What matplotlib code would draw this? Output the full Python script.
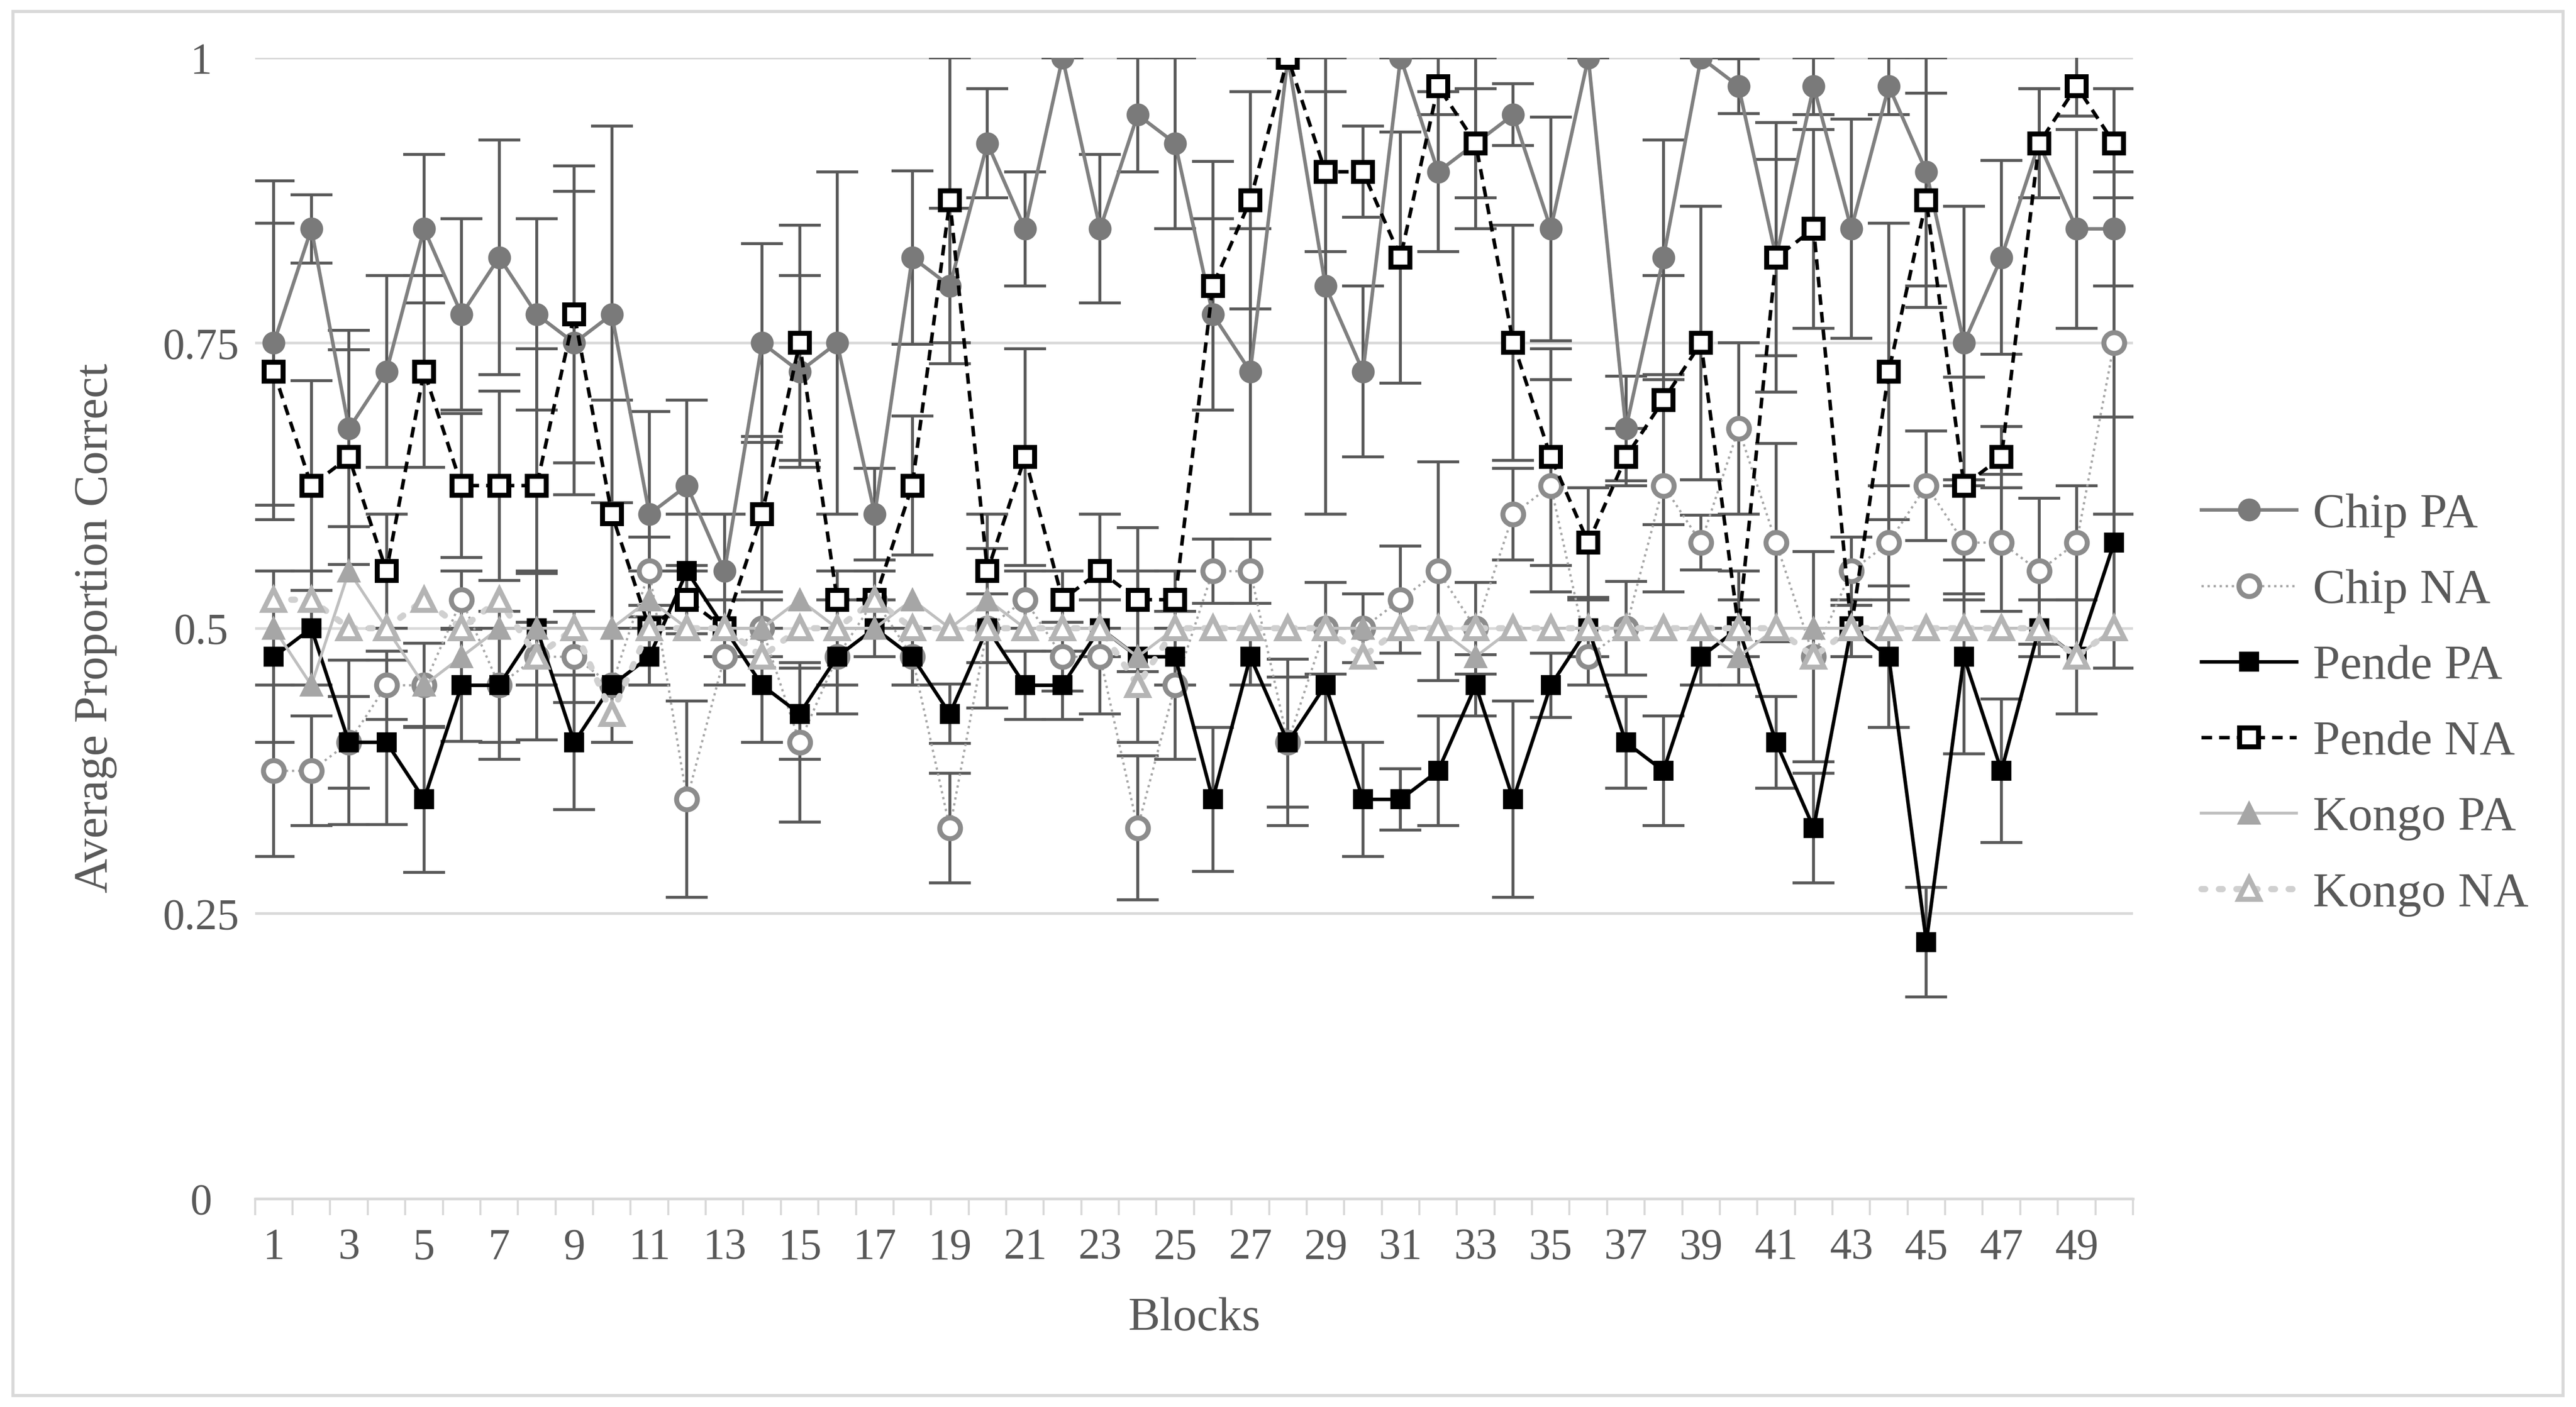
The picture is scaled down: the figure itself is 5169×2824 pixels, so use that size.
import matplotlib
matplotlib.use("Agg")
import matplotlib.pyplot as plt
from matplotlib.patches import Rectangle
from matplotlib.ticker import FixedLocator, FuncFormatter

# Blocks 1..50
blocks = list(range(1, 51))

chip_pa = [0.75, 0.85, 0.675, 0.725, 0.85, 0.775, 0.825, 0.775, 0.75, 0.775,
           0.6, 0.625, 0.55, 0.75, 0.725, 0.75, 0.6, 0.825, 0.8, 0.925,
           0.85, 1.0, 0.85, 0.95, 0.925, 0.775, 0.725, 1.0, 0.8, 0.725,
           1.0, 0.9, 0.925, 0.95, 0.85, 1.0, 0.675, 0.825, 1.0, 0.975,
           0.825, 0.975, 0.85, 0.975, 0.9, 0.75, 0.825, 0.925, 0.85, 0.85]
chip_pa_err = [0.142, 0.03, 0.086, 0.084, 0.065, 0.084, 0.103, 0.084, 0.133, 0.165,
               0.09, 0.075, 0.05, 0.087, 0.084, 0.15, 0.04, 0.076, 0.068, 0.048,
               0.05, 0.0, 0.065, 0.05, 0.075, 0.084, 0.125, 0.0, 0.2, 0.075,
               0.0, 0.07, 0.048, 0.027, 0.098, 0.0, 0.046, 0.103, 0.0, 0.024,
               0.118, 0.025, 0.096, 0.025, 0.1, 0.12, 0.085, 0.048, 0.087, 0.05]

chip_na = [0.375, 0.375, 0.4, 0.45, 0.45, 0.525, 0.45, 0.475, 0.475, 0.45,
           0.55, 0.35, 0.475, 0.5, 0.4, 0.475, 0.525, 0.475, 0.325, 0.5,
           0.525, 0.475, 0.475, 0.325, 0.45, 0.55, 0.55, 0.4, 0.5, 0.5,
           0.525, 0.55, 0.5, 0.6, 0.625, 0.475, 0.5, 0.625, 0.575, 0.675,
           0.575, 0.475, 0.55, 0.575, 0.625, 0.575, 0.575, 0.55, 0.575, 0.75]
chip_na_err = [0.075, 0.048, 0.04, 0.03, 0.037, 0.025, 0.05, 0.073, 0.04, 0.05,
               0.03, 0.086, 0.025, 0.025, 0.07, 0.05, 0.025, 0.025, 0.048, 0.03,
               0.025, 0.03, 0.05, 0.063, 0.065, 0.028, 0.028, 0.057, 0.04, 0.03,
               0.047, 0.096, 0.04, 0.04, 0.093, 0.025, 0.041, 0.093, 0.024, 0.075,
               0.087, 0.092, 0.03, 0.05, 0.048, 0.05, 0.06, 0.064, 0.05, 0.15]

pende_pa = [0.475, 0.5, 0.4, 0.4, 0.35, 0.45, 0.45, 0.5, 0.4, 0.45,
            0.475, 0.55, 0.5, 0.45, 0.425, 0.475, 0.5, 0.475, 0.425, 0.5,
            0.45, 0.45, 0.5, 0.475, 0.475, 0.35, 0.475, 0.4, 0.45, 0.35,
            0.35, 0.375, 0.45, 0.35, 0.45, 0.5, 0.4, 0.375, 0.475, 0.5,
            0.4, 0.325, 0.5, 0.475, 0.225, 0.475, 0.375, 0.5, 0.475, 0.575]
pende_pa_err = [0.075, 0.05, 0.072, 0.072, 0.064, 0.049, 0.065, 0.05, 0.059, 0.05,
                0.025, 0.05, 0.025, 0.05, 0.04, 0.025, 0.025, 0.025, 0.026, 0.07,
                0.03, 0.03, 0.025, 0.075, 0.025, 0.063, 0.025, 0.073, 0.05, 0.05,
                0.027, 0.048, 0.027, 0.086, 0.028, 0.025, 0.04, 0.048, 0.025, 0.05,
                0.04, 0.048, 0.025, 0.062, 0.048, 0.085, 0.063, 0.025, 0.05, 0.11]

pende_na = [0.725, 0.625, 0.65, 0.55, 0.725, 0.625, 0.625, 0.625, 0.775, 0.6,
            0.5, 0.525, 0.5, 0.6, 0.75, 0.525, 0.525, 0.625, 0.875, 0.55,
            0.65, 0.525, 0.55, 0.525, 0.525, 0.8, 0.875, 1.0, 0.9, 0.9,
            0.825, 0.975, 0.925, 0.75, 0.65, 0.575, 0.65, 0.7, 0.75, 0.5,
            0.825, 0.85, 0.5, 0.725, 0.875, 0.625, 0.65, 0.925, 0.975, 0.925]
pende_na_err = [0.13, 0.092, 0.094, 0.05, 0.084, 0.063, 0.083, 0.12, 0.13, 0.1,
                0.05, 0.03, 0.025, 0.068, 0.103, 0.025, 0.025, 0.061, 0.125, 0.05,
                0.095, 0.025, 0.05, 0.063, 0.025, 0.109, 0.095, 0.0, 0.07, 0.04,
                0.11, 0.025, 0.075, 0.103, 0.095, 0.048, 0.025, 0.109, 0.12, 0.025,
                0.086, 0.087, 0.025, 0.13, 0.094, 0.095, 0.027, 0.048, 0.026, 0.048]

kongo_pa = [0.5, 0.45, 0.55, 0.5, 0.45, 0.475, 0.5, 0.5, 0.5, 0.5,
            0.525, 0.5, 0.5, 0.5, 0.525, 0.5, 0.5, 0.525, 0.5, 0.525,
            0.5, 0.5, 0.5, 0.475, 0.5, 0.5, 0.5, 0.5, 0.5, 0.5,
            0.5, 0.5, 0.475, 0.5, 0.5, 0.5, 0.5, 0.5, 0.5, 0.475,
            0.5, 0.5, 0.5, 0.5, 0.5, 0.5, 0.5, 0.5, 0.475, 0.5]

kongo_na = [0.525, 0.525, 0.5, 0.5, 0.525, 0.5, 0.525, 0.475, 0.5, 0.425,
            0.5, 0.5, 0.5, 0.475, 0.5, 0.5, 0.525, 0.5, 0.5, 0.5,
            0.5, 0.5, 0.5, 0.45, 0.5, 0.5, 0.5, 0.5, 0.5, 0.475,
            0.5, 0.5, 0.5, 0.5, 0.5, 0.5, 0.5, 0.5, 0.5, 0.5,
            0.5, 0.475, 0.5, 0.5, 0.5, 0.5, 0.5, 0.5, 0.475, 0.5]

y_ticks = [0, 0.25, 0.5, 0.75, 1]
x_labels = list(range(1, 51, 2))

plt.rcParams['font.family'] = ['Liberation Serif', 'DejaVu Serif']

fig = plt.figure(figsize=(5169 / 300, 2824 / 300), dpi=300)
ax = fig.add_axes([0.099, 0.148, 0.729, 0.811])

err_color = '#595959'
err_kw = dict(ecolor=err_color, elinewidth=1.4, capsize=10, capthick=1.4)

# error bars first, so markers sit on top
for vals, errs in [(chip_pa, chip_pa_err), (chip_na, chip_na_err),
                   (pende_pa, pende_pa_err), (pende_na, pende_na_err)]:
    ax.errorbar(blocks, vals, yerr=errs, fmt='none', zorder=2, **err_kw)

ax.plot(blocks, chip_pa, color='#808080', lw=1.7, marker='o', ms=10,
        mfc='#7a7a7a', mec='#7a7a7a', label='Chip PA', zorder=3)
ax.plot(blocks, chip_na, color='#a6a6a6', lw=1.1, ls=':', marker='o', ms=10,
        mfc='white', mec='#8c8c8c', mew=2.4, label='Chip NA', zorder=4)
ax.plot(blocks, pende_pa, color='black', lw=1.7, marker='s', ms=8.5,
        mfc='black', mec='black', label='Pende PA', zorder=5)
ax.plot(blocks, pende_na, color='black', lw=1.7, ls=(0, (3, 2)), marker='s', ms=9,
        mfc='white', mec='black', mew=2.4, label='Pende NA', zorder=6)
ax.plot(blocks, kongo_pa, color='#bfbfbf', lw=1.4, marker='^', ms=10,
        mfc='#a6a6a6', mec='#a6a6a6', label='Kongo PA', zorder=7)
ax.plot(blocks, kongo_na, color='#d0d0d0', lw=3, ls=(0, (0.6, 2.2)),
        dash_capstyle='round', marker='^', ms=10, mfc='white', mec='#b4b4b4',
        mew=2.4, label='Kongo NA', zorder=8)

ax.set_xlim(0.5, 50.5)
ax.set_ylim(0, 1)

ax.yaxis.set_major_locator(FixedLocator(y_ticks))
ax.yaxis.set_major_formatter(FuncFormatter(lambda v, p: f'{v:g}'))
ax.grid(axis='y', color='#d9d9d9', lw=1.3)
ax.set_axisbelow(True)

ax.set_xticks(x_labels)
ax.set_xticks([b + 0.5 for b in range(0, 51)], minor=True)
ax.tick_params(axis='x', which='major', length=0, pad=14, labelsize=21, labelcolor='#595959')
ax.tick_params(axis='x', which='minor', length=8, width=1, color='#d9d9d9')
ax.tick_params(axis='y', length=0, pad=26, labelsize=21, labelcolor='#595959')
for lab in ax.get_yticklabels():
    lab.set_horizontalalignment('center')

for side in ['top', 'right', 'left']:
    ax.spines[side].set_visible(False)
ax.spines['bottom'].set_color('#d9d9d9')
ax.spines['bottom'].set_linewidth(1.3)

ax.set_xlabel('Blocks', fontsize=23, color='#595959', labelpad=14)
ax.set_ylabel('Average Proportion Correct', fontsize=23, color='#595959', labelpad=22)

leg = ax.legend(loc='center left', bbox_to_anchor=(1.013, 0.433), frameon=False,
                fontsize=23.5, handlelength=1.95, labelspacing=0.64, handletextpad=0.34)
for t in leg.get_texts():
    t.set_color('#595959')

# outer chart border
fig.patches.append(Rectangle((0.005, 0.008), 0.99, 0.984, transform=fig.transFigure,
                             fill=False, edgecolor='#d9d9d9', lw=1.5))

fig.savefig('out.png', dpi=300)
